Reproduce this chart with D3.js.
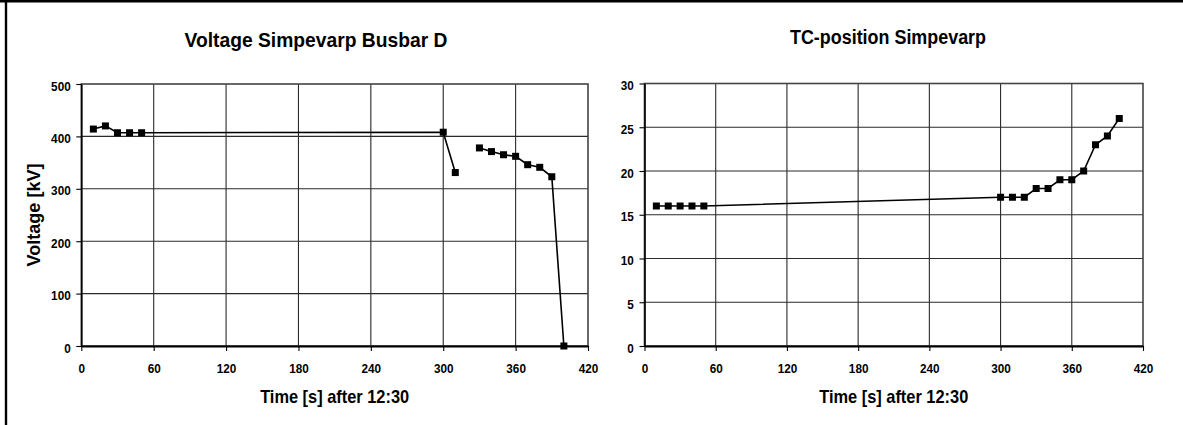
<!DOCTYPE html>
<html><head><meta charset="utf-8">
<script src="https://cdn.jsdelivr.net/npm/d3@7"></script>
<style>
body{margin:0;background:#fff;}
svg{display:block;}
text{font-family:"Liberation Sans",Arial,sans-serif;font-weight:bold;fill:#000;}
</style></head><body>
<svg id="c" width="1183" height="425"></svg>
<script>
// ---- data ----
const voltTime   = [10,20,30,40,50,300,310,320,330,340,350,360,370,380,390,400];
const voltValues = [414,420,407,407,407,408,331,null,378,371,365,362,346,341,323,0];
const tcTime     = [10,20,30,40,50,300,310,320,330,340,350,360,370,380,390,400];
const tcValues   = [16,16,16,16,16,17,17,17,18,18,19,19,20,23,24,26];
const xTicks     = [0,60,120,180,240,300,360,420];
const voltTicks  = [0,100,200,300,400,500];
const tcTicks    = [0,5,10,15,20,25,30];
const chartTitles = ["Voltage Simpevarp Busbar D","TC-position Simpevarp"];
const xAxisTitle = "Time [s] after 12:30";
const yAxisTitle = "Voltage [kV]";

const svg = d3.select("#c");

// outer frame (top and left edges visible)
svg.append("line").attr("x1",0).attr("x2",1183).attr("y1",1.3).attr("y2",1.3)
  .attr("stroke","#000").attr("stroke-width",2.6);
svg.append("line").attr("x1",6).attr("x2",6).attr("y1",0).attr("y2",425)
  .attr("stroke","#000").attr("stroke-width",2.4);

const SX = 0.87;

function panel(cfg){
  const x = d3.scaleLinear().domain([0,420]).range([cfg.x0,cfg.x1]);
  const y = d3.scaleLinear().domain([0,cfg.ymax]).range([cfg.yb,cfg.yt]);
  const g = svg.append("g");

  // gridlines
  g.selectAll("line.hg").data(cfg.yticks.slice(1,-1)).join("line")
    .attr("x1",cfg.x0).attr("x2",cfg.x1)
    .attr("y1",d=>y(d)).attr("y2",d=>y(d))
    .attr("stroke","#2a2a2a").attr("stroke-width",1.1);
  g.selectAll("line.vg").data(xTicks.slice(1,-1)).join("line")
    .attr("y1",cfg.yt).attr("y2",cfg.yb)
    .attr("x1",d=>x(d)).attr("x2",d=>x(d))
    .attr("stroke","#2a2a2a").attr("stroke-width",1.1);
  // plot border
  g.append("rect").attr("x",cfg.x0).attr("y",cfg.yt)
    .attr("width",cfg.x1-cfg.x0).attr("height",cfg.yb-cfg.yt)
    .attr("fill","none").attr("stroke","#444").attr("stroke-width",1.6);

  // axes
  const ya = g.append("g").attr("transform",`translate(${cfg.x0},0)`)
    .call(d3.axisLeft(y).tickValues(cfg.yticks).tickSize(5).tickSizeOuter(0).tickPadding(7.2));
  ya.select(".domain").attr("stroke","#000").attr("stroke-width",1.6);
  ya.selectAll(".tick line").attr("stroke","#000").attr("stroke-width",1.1);
  ya.selectAll("text").attr("font-size",13.5).attr("dy","0.45em")
    .attr("transform",`scale(${SX},1)`)
    .style("font-family",'"Liberation Sans",Arial,sans-serif').style("font-weight","bold");

  const xa = g.append("g").attr("transform",`translate(0,${cfg.yb})`)
    .call(d3.axisBottom(x).tickValues(xTicks).tickSize(5).tickSizeOuter(0).tickPadding(12.5));
  xa.select(".domain").attr("stroke","#000").attr("stroke-width",2.2);
  xa.selectAll(".tick line").attr("stroke","#000").attr("stroke-width",1.1);
  xa.selectAll("text").attr("font-size",13.5)
    .attr("transform",`scale(${SX},1)`)
    .style("font-family",'"Liberation Sans",Arial,sans-serif').style("font-weight","bold");

  // series
  const pts = cfg.t.map((t,i)=>({t, v: cfg.v[i]}));
  const line = d3.line().defined(d=>d.v!==null).x(d=>x(d.t)).y(d=>y(d.v));
  g.append("path").datum(pts).attr("d",line)
    .attr("fill","none").attr("stroke","#000").attr("stroke-width",1.6);
  const ms = 7;
  g.selectAll("rect.m").data(pts.filter(d=>d.v!==null)).join("rect")
    .attr("x",d=>x(d.t)-ms/2).attr("y",d=>y(d.v)-ms/2)
    .attr("width",ms).attr("height",ms).attr("fill","#000");

  // titles
  g.append("text").attr("x",cfg.titleX).attr("y",cfg.titleY)
    .attr("text-anchor","middle").attr("font-size",cfg.titleSize)
    .attr("textLength",cfg.titleLen).attr("lengthAdjust","spacingAndGlyphs")
    .text(cfg.title);
  g.append("text").attr("x",(cfg.x0+cfg.x1)/2).attr("y",402.5)
    .attr("text-anchor","middle").attr("font-size",19)
    .attr("textLength",149).attr("lengthAdjust","spacingAndGlyphs")
    .text(xAxisTitle);
  if(cfg.ytitle){
    g.append("text").attr("transform",`translate(40,${(cfg.yt+cfg.yb)/2}) rotate(-90)`)
      .attr("text-anchor","middle").attr("font-size",18.5)
      .attr("textLength",103).attr("lengthAdjust","spacingAndGlyphs")
      .text(cfg.ytitle);
  }
}

panel({x0:81.3,x1:588,yt:84,yb:346,ymax:500,yticks:voltTicks,t:voltTime,v:voltValues,
  title:chartTitles[0],titleX:316,titleY:46.5,titleSize:21,titleLen:263,ytitle:yAxisTitle});
panel({x0:644.5,x1:1143,yt:83.5,yb:346,ymax:30,yticks:tcTicks,t:tcTime,v:tcValues,
  title:chartTitles[1],titleX:888,titleY:43.5,titleSize:20,titleLen:196,ytitle:null});
</script>
</body></html>
